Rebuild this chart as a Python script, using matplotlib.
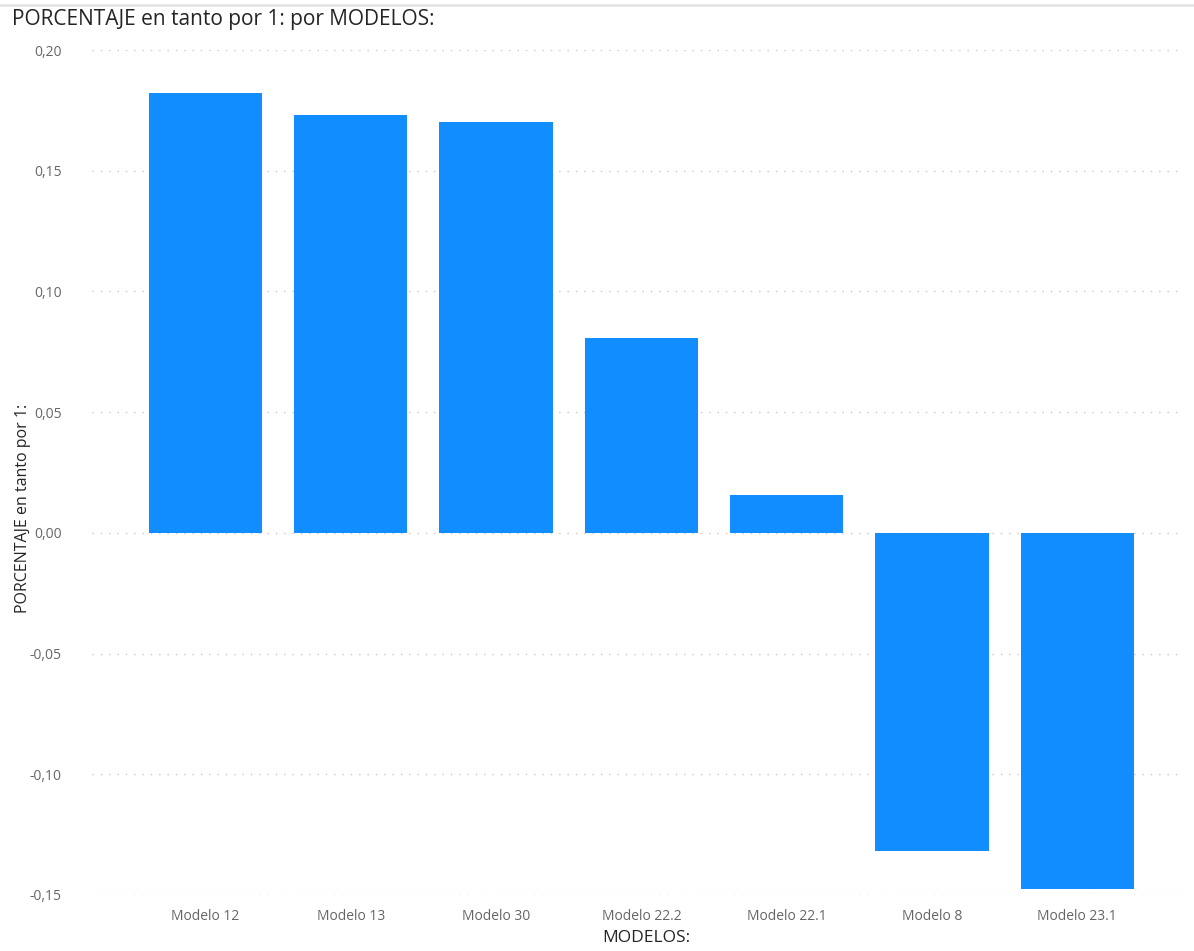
import matplotlib.pyplot as plt
from matplotlib.ticker import FuncFormatter

# Values
modelos = ['Modelo 12', 'Modelo 13', 'Modelo 30', 'Modelo 22.2',
           'Modelo 22.1', 'Modelo 8', 'Modelo 23.1']
porcentaje = [0.1823, 0.1732, 0.1703, 0.0808, 0.0157, -0.1317, -0.1475]
y_ticks = [-0.15, -0.10, -0.05, 0.00, 0.05, 0.10, 0.15, 0.20]

plt.rcParams['font.family'] = ['Open Sans', 'DejaVu Sans']

fig = plt.figure(figsize=(11.94, 9.51), dpi=100)
ax = fig.add_axes([92 / 1194, 56 / 951, 1090 / 1194, 845 / 951])

x = range(len(modelos))
ax.bar(x, porcentaje, width=0.78, color='#118DFF', zorder=2)

ax.set_xlim(-0.78, 6.72)
ax.set_ylim(-0.15, 0.20)
ax.set_yticks(y_ticks)
ax.yaxis.set_major_formatter(FuncFormatter(lambda v, p: f'{v:.2f}'.replace('.', ',')))
ax.set_xticks(list(x))
ax.set_xticklabels(modelos)

ax.grid(axis='y', linestyle=(0, (1, 5)), color='#c8c8c8', linewidth=1, zorder=0)
for s in ax.spines.values():
    s.set_visible(False)
ax.tick_params(axis='both', length=0, labelsize=10, labelcolor='#666666')
ax.tick_params(axis='y', pad=22)
ax.tick_params(axis='x', pad=10)

# axis titles placed by hand, like the report layout
fig.text(23 / 1194, 1 - 508 / 951, 'PORCENTAJE en tanto por 1:', rotation=90,
         fontsize=11.5, color='#252423', va='center', ha='center')
fig.text(646 / 1194, 1 - 938 / 951, 'MODELOS:',
         fontsize=12.5, color='#252423', va='center', ha='center')

fig.text(12 / 1194, 1 - 19 / 951, 'PORCENTAJE en tanto por 1: por MODELOS:',
         fontsize=15, color='#252423', va='center', ha='left')

# faint top border line
fig.add_artist(plt.Line2D([0, 1], [1 - 5 / 951, 1 - 5 / 951], color='#e6e6e6', linewidth=2))

fig.savefig('out.png', dpi=100)
